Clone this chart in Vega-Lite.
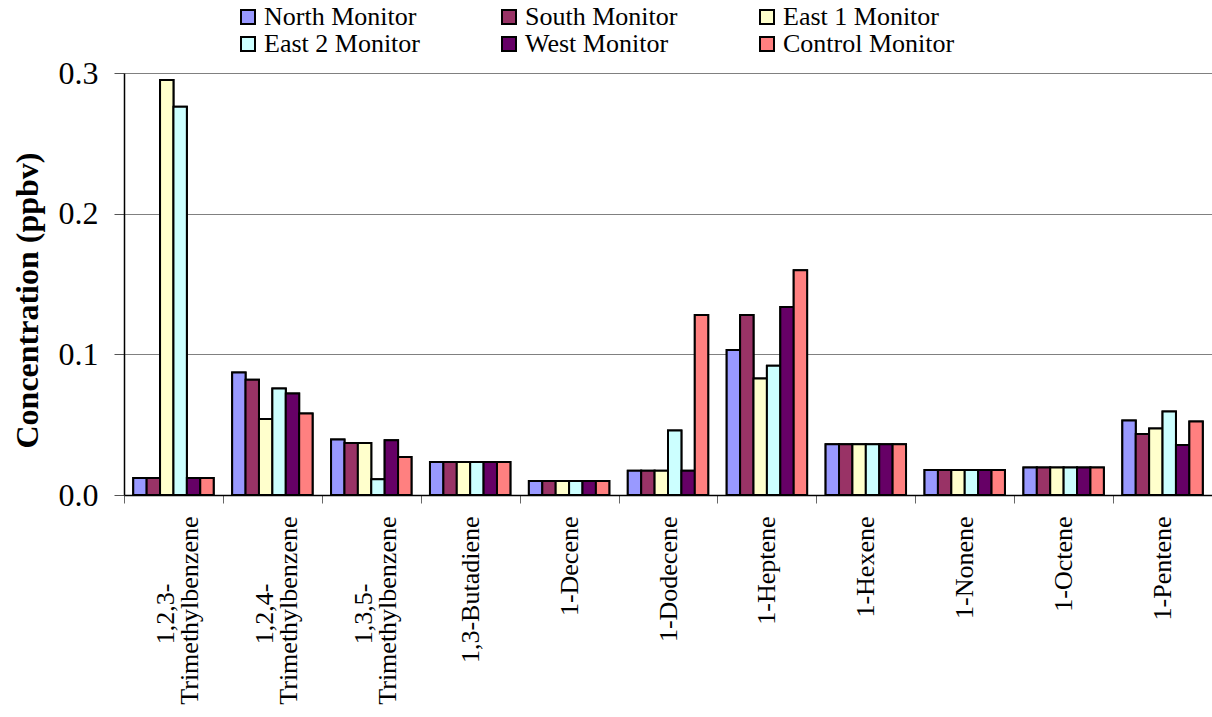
{
  "$schema": "https://vega.github.io/schema/vega-lite/v6.json",
  "width": 1088,
  "height": 422,
  "autosize": {"type": "none"},
  "padding": {"left": 124, "top": 73, "right": 0, "bottom": 222},
  "background": "white",
  "config": {
    "view": {"stroke": null},
    "font": "Liberation Serif"
  },
  "data": {
    "values": [
      {"compound": "1,2,3-|Trimethylbenzene", "monitor": "North Monitor", "value": 0.012},
      {"compound": "1,2,3-|Trimethylbenzene", "monitor": "South Monitor", "value": 0.012},
      {"compound": "1,2,3-|Trimethylbenzene", "monitor": "East 1 Monitor", "value": 0.295},
      {"compound": "1,2,3-|Trimethylbenzene", "monitor": "East 2 Monitor", "value": 0.276},
      {"compound": "1,2,3-|Trimethylbenzene", "monitor": "West Monitor", "value": 0.012},
      {"compound": "1,2,3-|Trimethylbenzene", "monitor": "Control Monitor", "value": 0.012},
      {"compound": "1,2,4-|Trimethylbenzene", "monitor": "North Monitor", "value": 0.087},
      {"compound": "1,2,4-|Trimethylbenzene", "monitor": "South Monitor", "value": 0.082},
      {"compound": "1,2,4-|Trimethylbenzene", "monitor": "East 1 Monitor", "value": 0.054},
      {"compound": "1,2,4-|Trimethylbenzene", "monitor": "East 2 Monitor", "value": 0.0757},
      {"compound": "1,2,4-|Trimethylbenzene", "monitor": "West Monitor", "value": 0.0722},
      {"compound": "1,2,4-|Trimethylbenzene", "monitor": "Control Monitor", "value": 0.058},
      {"compound": "1,3,5-|Trimethylbenzene", "monitor": "North Monitor", "value": 0.0394},
      {"compound": "1,3,5-|Trimethylbenzene", "monitor": "South Monitor", "value": 0.037},
      {"compound": "1,3,5-|Trimethylbenzene", "monitor": "East 1 Monitor", "value": 0.037},
      {"compound": "1,3,5-|Trimethylbenzene", "monitor": "East 2 Monitor", "value": 0.0112},
      {"compound": "1,3,5-|Trimethylbenzene", "monitor": "West Monitor", "value": 0.039},
      {"compound": "1,3,5-|Trimethylbenzene", "monitor": "Control Monitor", "value": 0.027},
      {"compound": "1,3-Butadiene", "monitor": "North Monitor", "value": 0.0235},
      {"compound": "1,3-Butadiene", "monitor": "South Monitor", "value": 0.0235},
      {"compound": "1,3-Butadiene", "monitor": "East 1 Monitor", "value": 0.0235},
      {"compound": "1,3-Butadiene", "monitor": "East 2 Monitor", "value": 0.0235},
      {"compound": "1,3-Butadiene", "monitor": "West Monitor", "value": 0.0235},
      {"compound": "1,3-Butadiene", "monitor": "Control Monitor", "value": 0.0235},
      {"compound": "1-Decene", "monitor": "North Monitor", "value": 0.01},
      {"compound": "1-Decene", "monitor": "South Monitor", "value": 0.01},
      {"compound": "1-Decene", "monitor": "East 1 Monitor", "value": 0.01},
      {"compound": "1-Decene", "monitor": "East 2 Monitor", "value": 0.01},
      {"compound": "1-Decene", "monitor": "West Monitor", "value": 0.01},
      {"compound": "1-Decene", "monitor": "Control Monitor", "value": 0.01},
      {"compound": "1-Dodecene", "monitor": "North Monitor", "value": 0.0173},
      {"compound": "1-Dodecene", "monitor": "South Monitor", "value": 0.0173},
      {"compound": "1-Dodecene", "monitor": "East 1 Monitor", "value": 0.0173},
      {"compound": "1-Dodecene", "monitor": "East 2 Monitor", "value": 0.0458},
      {"compound": "1-Dodecene", "monitor": "West Monitor", "value": 0.0173},
      {"compound": "1-Dodecene", "monitor": "Control Monitor", "value": 0.128},
      {"compound": "1-Heptene", "monitor": "North Monitor", "value": 0.103},
      {"compound": "1-Heptene", "monitor": "South Monitor", "value": 0.128},
      {"compound": "1-Heptene", "monitor": "East 1 Monitor", "value": 0.0828},
      {"compound": "1-Heptene", "monitor": "East 2 Monitor", "value": 0.0918},
      {"compound": "1-Heptene", "monitor": "West Monitor", "value": 0.1336},
      {"compound": "1-Heptene", "monitor": "Control Monitor", "value": 0.1597},
      {"compound": "1-Hexene", "monitor": "North Monitor", "value": 0.036},
      {"compound": "1-Hexene", "monitor": "South Monitor", "value": 0.036},
      {"compound": "1-Hexene", "monitor": "East 1 Monitor", "value": 0.036},
      {"compound": "1-Hexene", "monitor": "East 2 Monitor", "value": 0.036},
      {"compound": "1-Hexene", "monitor": "West Monitor", "value": 0.036},
      {"compound": "1-Hexene", "monitor": "Control Monitor", "value": 0.036},
      {"compound": "1-Nonene", "monitor": "North Monitor", "value": 0.0178},
      {"compound": "1-Nonene", "monitor": "South Monitor", "value": 0.0178},
      {"compound": "1-Nonene", "monitor": "East 1 Monitor", "value": 0.0178},
      {"compound": "1-Nonene", "monitor": "East 2 Monitor", "value": 0.0178},
      {"compound": "1-Nonene", "monitor": "West Monitor", "value": 0.0178},
      {"compound": "1-Nonene", "monitor": "Control Monitor", "value": 0.0178},
      {"compound": "1-Octene", "monitor": "North Monitor", "value": 0.0195},
      {"compound": "1-Octene", "monitor": "South Monitor", "value": 0.0195},
      {"compound": "1-Octene", "monitor": "East 1 Monitor", "value": 0.0195},
      {"compound": "1-Octene", "monitor": "East 2 Monitor", "value": 0.0195},
      {"compound": "1-Octene", "monitor": "West Monitor", "value": 0.0195},
      {"compound": "1-Octene", "monitor": "Control Monitor", "value": 0.0195},
      {"compound": "1-Pentene", "monitor": "North Monitor", "value": 0.0529},
      {"compound": "1-Pentene", "monitor": "South Monitor", "value": 0.0434},
      {"compound": "1-Pentene", "monitor": "East 1 Monitor", "value": 0.0472},
      {"compound": "1-Pentene", "monitor": "East 2 Monitor", "value": 0.0593},
      {"compound": "1-Pentene", "monitor": "West Monitor", "value": 0.0356},
      {"compound": "1-Pentene", "monitor": "Control Monitor", "value": 0.0522}
    ]
  },
  "resolve": {"axis": {"x": "independent"}},
  "layer": [
    {
      "mark": {"type": "bar", "stroke": "black", "strokeWidth": 2},
      "encoding": {
        "x": {
          "field": "compound",
          "type": "nominal",
          "sort": null,
          "scale": {"paddingInner": 0, "paddingOuter": 0},
          "axis": {
            "orient": "bottom",
            "title": null,
            "labelAngle": -90,
            "labelFont": "Liberation Serif",
            "labelFontSize": 26,
            "labelColor": "black",
            "labelLineHeight": 23,
            "labelLimit": 400,
            "labelPadding": 13,
            "labelOffset": {"condition": {"test": "isValid(datum.value) && indexof(datum.value, '|') >= 0", "value": -7}, "value": 0},
            "labelExpr": "isValid(datum.value) ? (indexof(datum.value, '|') >= 0 ? ['', split(datum.value, '|')[1]] : datum.value) : ''",
            "tickBand": "extent",
            "tickSize": 8,
            "tickColor": "#666666",
            "domainColor": "black",
            "domainWidth": 1.5,
            "grid": false
          }
        },
        "xOffset": {
          "field": "monitor",
          "type": "nominal",
          "sort": ["North Monitor", "South Monitor", "East 1 Monitor", "East 2 Monitor", "West Monitor", "Control Monitor"],
          "scale": {"paddingInner": 0, "paddingOuter": 0.69}
        },
        "y": {
          "field": "value",
          "type": "quantitative",
          "scale": {"domain": [0, 0.3], "nice": false},
          "axis": {
            "title": "Concentration (ppbv)",
            "titleFont": "Liberation Serif",
            "titleFontSize": 32,
            "titleFontWeight": "bold",
            "titleColor": "black",
            "titlePadding": 14,
            "titleY": 227,
            "values": [0, 0.1, 0.2, 0.3],
            "format": ".1f",
            "labelFont": "Liberation Serif",
            "labelFontSize": 32,
            "labelColor": "black",
            "labelPadding": 16,
            "tickSize": 10,
            "tickColor": "#555555",
            "domainColor": "black",
            "domainWidth": 1.5,
            "grid": true,
            "gridColor": "#808080",
            "gridWidth": 1
          }
        },
        "color": {
          "field": "monitor",
          "type": "nominal",
          "scale": {
            "domain": ["North Monitor", "South Monitor", "East 1 Monitor", "East 2 Monitor", "West Monitor", "Control Monitor"],
            "range": ["#9999FF", "#993366", "#FFFFCC", "#CCFFFF", "#660066", "#FF8080"]
          },
          "legend": {
            "title": null,
            "orient": "none",
            "legendX": 111,
            "legendY": -69,
            "direction": "horizontal",
            "columns": 3,
            "columnPadding": 76,
            "rowPadding": 1,
            "symbolType": "square",
            "symbolSize": 196,
            "symbolStrokeColor": "black",
            "symbolStrokeWidth": 2,
            "labelFont": "Liberation Serif",
            "labelFontSize": 26,
            "labelColor": "black",
            "labelOffset": 3,
            "labelLimit": 400
          }
        }
      }
    },
    {
      "mark": {"type": "bar", "stroke": "black", "strokeWidth": 2},
      "encoding": {
        "x": {
          "field": "compound",
          "type": "nominal",
          "sort": null,
          "scale": {"paddingInner": 0, "paddingOuter": 0},
          "axis": {
            "orient": "bottom",
            "title": null,
            "labelAngle": -90,
            "labelFont": "Liberation Serif",
            "labelFontSize": 26,
            "labelColor": "black",
            "labelLineHeight": 23,
            "labelLimit": 400,
            "labelPadding": 88,
            "labelOffset": -7,
            "labelExpr": "isValid(datum.value) && indexof(datum.value, '|') >= 0 ? [split(datum.value, '|')[0], ''] : ''",
            "ticks": false,
            "tickSize": 0,
            "domain": false,
            "grid": false
          }
        },
        "xOffset": {
          "field": "monitor",
          "type": "nominal",
          "sort": ["North Monitor", "South Monitor", "East 1 Monitor", "East 2 Monitor", "West Monitor", "Control Monitor"],
          "scale": {"paddingInner": 0, "paddingOuter": 0.69}
        },
        "y": {
          "field": "value",
          "type": "quantitative",
          "scale": {"domain": [0, 0.3], "nice": false}
        },
        "color": {
          "field": "monitor",
          "type": "nominal",
          "scale": {
            "domain": ["North Monitor", "South Monitor", "East 1 Monitor", "East 2 Monitor", "West Monitor", "Control Monitor"],
            "range": ["#9999FF", "#993366", "#FFFFCC", "#CCFFFF", "#660066", "#FF8080"]
          },
          "legend": {
            "title": null,
            "orient": "none",
            "legendX": 111,
            "legendY": -69,
            "direction": "horizontal",
            "columns": 3,
            "columnPadding": 76,
            "rowPadding": 1,
            "symbolType": "square",
            "symbolSize": 196,
            "symbolStrokeColor": "black",
            "symbolStrokeWidth": 2,
            "labelFont": "Liberation Serif",
            "labelFontSize": 26,
            "labelColor": "black",
            "labelOffset": 3,
            "labelLimit": 400
          }
        }
      }
    }
  ]
}
